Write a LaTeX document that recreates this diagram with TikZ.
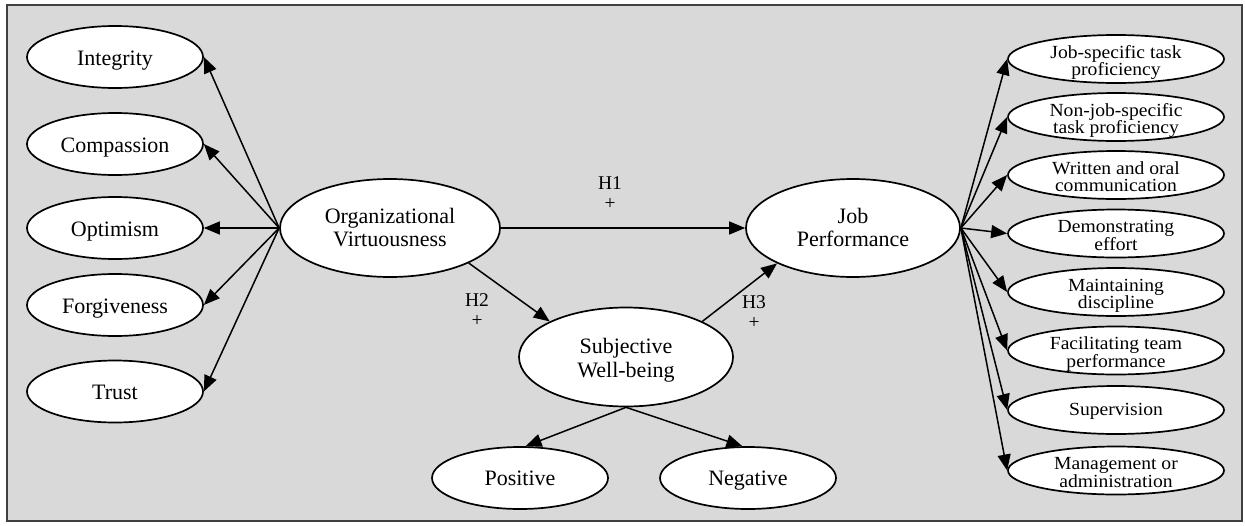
\documentclass[tikz,border=0pt]{standalone}
\usepackage{fontspec}
\setmainfont{Liberation Serif}
\newfontfamily\rightfont[FakeStretch=1.06]{Liberation Serif}
\usetikzlibrary{arrows.meta,shapes.geometric}
\definecolor{bgray}{HTML}{D9D9D9}
\definecolor{framegray}{HTML}{404040}
\tikzset{
  ell/.style={ellipse, draw=black, line width=1.7pt, fill=white, inner sep=0pt},
  lft/.style={ell, minimum width=176pt, minimum height=62pt},
  ctr/.style={ell, minimum width=216pt, minimum height=98pt},
  rgt/.style={ell, minimum width=216pt, minimum height=48pt},
  ltxt/.style={anchor=base, font=\fontsize{22}{23}\selectfont, inner sep=0pt, align=center},
  ctxt/.style={anchor=base, font=\fontsize{22}{23.5}\selectfont, inner sep=0pt, align=center},
  rtxt/.style={anchor=base, font=\rightfont\fontsize{18.5}{17.5}\selectfont, inner sep=0pt, align=center},
  htxt/.style={anchor=base, font=\fontsize{19.5}{20.5}\selectfont, inner sep=0pt, align=center},
  arr/.style={-{Triangle[length=16pt,width=13pt]}, line width=1.5pt},
}
\begin{document}
\begin{tikzpicture}[x=1pt,y=-1pt]
\useasboundingbox (0,0) rectangle (1245,525);
\node[draw=framegray, fill=bgray, line width=1.5pt, minimum width=1235pt, minimum height=516pt, inner sep=0pt] (frame) at (624.5,263) {};

% left column
\node[lft] (int) at (115,57) {};
\node[lft] (com) at (115,144) {};
\node[lft] (opt) at (115,228) {};
\node[lft] (for) at (115,305) {};
\node[lft] (tru) at (115,391.5) {};
\node[ltxt] (intT) at (115,65) {Integrity};
\node[ltxt] (comT) at (115,152) {Compassion};
\node[ltxt] (optT) at (115,236) {Optimism};
\node[ltxt] (forT) at (115,313) {Forgiveness};
\node[ltxt] (truT) at (115,399.5) {Trust};

% centre
\node[ctr, minimum width=220pt] (ov) at (390,228) {};
\node[ctr, minimum width=214pt] (jp) at (853,228) {};
\node[ctr, minimum width=214pt, minimum height=99pt] (swb) at (626,357) {};
\node[lft] (pos) at (520,478) {};
\node[lft] (neg) at (748,478) {};
\node[ctxt] (ovT) at (390,246.5) {Organizational\\Virtuousness};
\node[ctxt] (jpT) at (853,246.5) {Job\\Performance};
\node[ctxt, font=\fontsize{22}{24}\selectfont] (swbT) at (626,377) {Subjective\\Well-being};
\node[ltxt] (posT) at (520,485) {Positive};
\node[ltxt] (negT) at (748,485) {Negative};

% right column
\node[rgt] (r1) at (1116,59) {};
\node[rgt] (r2) at (1116,117) {};
\node[rgt] (r3) at (1116,175) {};
\node[rgt] (r4) at (1116,233.5) {};
\node[rgt] (r5) at (1116,292) {};
\node[rgt] (r6) at (1116,350.5) {};
\node[rgt] (r7) at (1116,410) {};
\node[rgt] (r8) at (1116,470.5) {};
\node[rtxt] (r1T) at (1116,75.5) {Job-specific task\\proficiency};
\node[rtxt] (r2T) at (1116,133.5) {Non-job-specific\\task proficiency};
\node[rtxt] (r3T) at (1116,191.5) {Written and oral\\communication};
\node[rtxt] (r4T) at (1116,250) {Demonstrating\\effort};
\node[rtxt] (r5T) at (1116,308.5) {Maintaining\\discipline};
\node[rtxt] (r6T) at (1116,367) {Facilitating team\\performance};
\node[rtxt] (r7T) at (1116,415) {Supervision};
\node[rtxt] (r8T) at (1116,487) {Management or\\administration};

% hypothesis labels
\node[htxt] (h1) at (610,209.5) {H1\\+};
\node[htxt] (h2) at (477,326.5) {H2\\+};
\node[htxt] (h3) at (754,328.5) {H3\\+};

% connectors
\foreach \t in {int,com,opt,for,tru} \draw[arr] (ov.west) -- (\t.east);
\foreach \t in {r1,r2,r3,r4,r5,r6,r7,r8} \draw[arr] (jp.east) -- (\t.west);
\draw[arr] (ov.east) -- (jp.west);
\draw[arr] (ov.-24) -- (swb.155);
\draw[arr] (swb.25) -- (jp.205);
\draw[arr] (swb.south) -- (pos.80);
\draw[arr] (swb.south) -- (neg.100);
\end{tikzpicture}
\end{document}
